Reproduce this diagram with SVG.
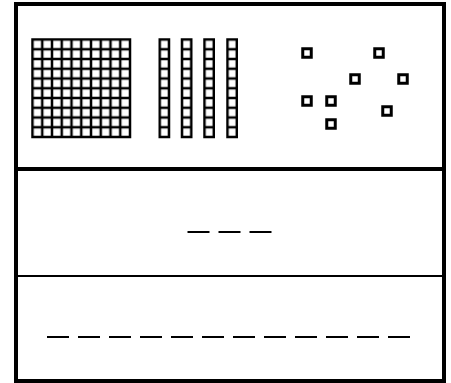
<svg xmlns="http://www.w3.org/2000/svg" width="451" height="383" viewBox="0 0 451 383">
<style>
.frame{fill:none;stroke:#000;stroke-width:4}
.div2{stroke:#000;stroke-width:2}
.unit{fill:#fff;stroke:#000;stroke-width:3}
.blank{stroke:#000;stroke-width:2}
.block{fill:#000}
</style>
<defs>
<pattern id="cells" x="32.5" y="39.5" width="9.75" height="9.75" patternUnits="userSpaceOnUse">
<rect width="9.75" height="9.75" fill="#000"/>
<rect x="1.25" y="1.25" width="7.25" height="7.25" fill="#fff"/>
</pattern>
<pattern id="rodcells1" x="159.75" y="39.5" width="9.25" height="9.75" patternUnits="userSpaceOnUse"><rect x="1.25" y="1.25" width="6.75" height="7.25" fill="#fff"/></pattern>
<pattern id="rodcells2" x="182" y="39.5" width="9.25" height="9.75" patternUnits="userSpaceOnUse"><rect x="1.25" y="1.25" width="6.75" height="7.25" fill="#fff"/></pattern>
<pattern id="rodcells3" x="204.5" y="39.5" width="9.25" height="9.75" patternUnits="userSpaceOnUse"><rect x="1.25" y="1.25" width="6.75" height="7.25" fill="#fff"/></pattern>
<pattern id="rodcells4" x="227.5" y="39.5" width="9.25" height="9.75" patternUnits="userSpaceOnUse"><rect x="1.25" y="1.25" width="6.75" height="7.25" fill="#fff"/></pattern>
<g id="u"><rect x="-4.25" y="-4.25" width="8.5" height="8.5" class="unit"/></g>
</defs>
<rect x="0" y="0" width="451" height="383" fill="#fff"/>
<g id="frame">
<rect class="frame" x="16" y="4" width="428" height="377"/>
<line class="frame" x1="16" y1="169" x2="444" y2="169"/>
<line class="div2" x1="16" y1="276" x2="444" y2="276"/>
</g>
<g id="hundred">
<rect class="block" x="31.25" y="38.25" width="100" height="100"/>
<rect x="32.5" y="39.5" width="97.5" height="97.5" fill="url(#cells)"/>
</g>
<g id="tens">
<g id="rod1"><rect class="block" x="158.5" y="38.25" width="11.75" height="100"/><rect x="159.75" y="39.5" width="9.25" height="97.5" fill="url(#rodcells1)"/></g>
<g id="rod2"><rect class="block" x="180.75" y="38.25" width="11.75" height="100"/><rect x="182" y="39.5" width="9.25" height="97.5" fill="url(#rodcells2)"/></g>
<g id="rod3"><rect class="block" x="203.25" y="38.25" width="11.75" height="100"/><rect x="204.5" y="39.5" width="9.25" height="97.5" fill="url(#rodcells3)"/></g>
<g id="rod4"><rect class="block" x="226.25" y="38.25" width="11.75" height="100"/><rect x="227.5" y="39.5" width="9.25" height="97.5" fill="url(#rodcells4)"/></g>
</g>
<g id="ones">
<use href="#u" x="307" y="53"/>
<use href="#u" x="379" y="53"/>
<use href="#u" x="355" y="79"/>
<use href="#u" x="403" y="79"/>
<use href="#u" x="307" y="101"/>
<use href="#u" x="331" y="101"/>
<use href="#u" x="387" y="111"/>
<use href="#u" x="331" y="124"/>
</g>
<g id="blanks-tens">
<line class="blank" x1="187.5" y1="232" x2="209.5" y2="232"/>
<line class="blank" x1="218.5" y1="232" x2="240.5" y2="232"/>
<line class="blank" x1="249.5" y1="232" x2="271.5" y2="232"/>
</g>
<g id="blanks-ones">
<line class="blank" x1="47" y1="337" x2="69" y2="337"/>
<line class="blank" x1="78" y1="337" x2="100" y2="337"/>
<line class="blank" x1="109" y1="337" x2="131" y2="337"/>
<line class="blank" x1="140" y1="337" x2="162" y2="337"/>
<line class="blank" x1="171" y1="337" x2="193" y2="337"/>
<line class="blank" x1="202" y1="337" x2="224" y2="337"/>
<line class="blank" x1="233" y1="337" x2="255" y2="337"/>
<line class="blank" x1="264" y1="337" x2="286" y2="337"/>
<line class="blank" x1="295" y1="337" x2="317" y2="337"/>
<line class="blank" x1="326" y1="337" x2="348" y2="337"/>
<line class="blank" x1="357" y1="337" x2="379" y2="337"/>
<line class="blank" x1="388" y1="337" x2="410" y2="337"/>
</g>
</svg>
